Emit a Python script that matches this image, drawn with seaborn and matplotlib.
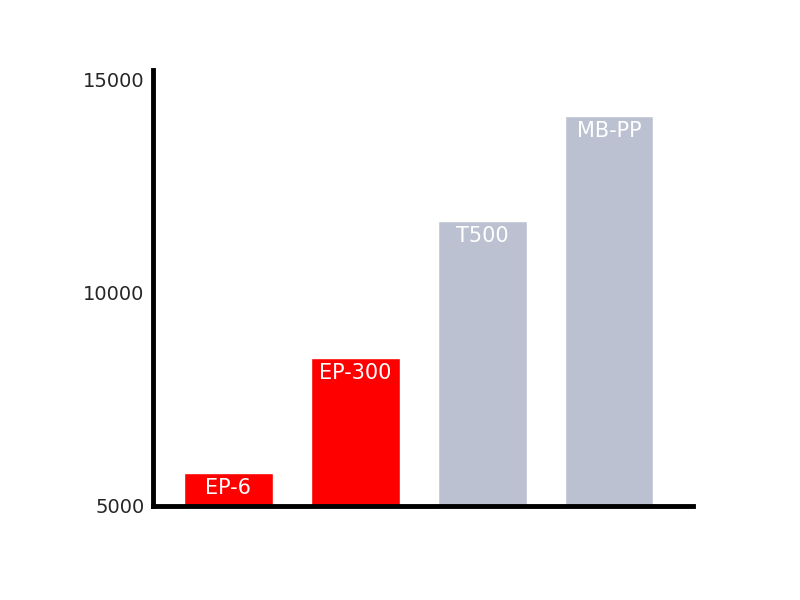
import matplotlib
matplotlib.use("Agg")
import matplotlib.pyplot as plt
import seaborn as sns
import pandas as pd

models = ["EP-6", "EP-300", "T500", "MB-PP"]
values = [5770, 8480, 11700, 14150]
colors = ["#ff0000", "#ff0000", "#bcc1d1", "#bcc1d1"]

sns.set_style("white")
plt.rcParams['font.family'] = ['DejaVu Sans']

df = pd.DataFrame({"model": models, "value": values})
fig = plt.figure(figsize=(8, 6), dpi=100)
ax = fig.add_axes([0.191, 0.157, 0.675, 0.726])
sns.barplot(data=df, x="model", y="value", hue="model", palette=colors,
            width=0.7, legend=False, ax=ax, saturation=1)

ax.set_ylim(5000, 15230)
ax.set_xlim(-0.595, 3.66)
ax.set_yticks([5000, 10000, 15000])
ax.tick_params(axis="y", labelsize=14, length=0, pad=6)
ax.set_xticks([])
ax.set_xlabel("")
ax.set_ylabel("")
for s in ["top", "right"]:
    ax.spines[s].set_visible(False)
for s in ["left", "bottom"]:
    ax.spines[s].set_linewidth(3.5)
    ax.spines[s].set_color("black")

for i, (m, v) in enumerate(zip(models, values)):
    ax.text(i, v - 120, m, ha="center", va="top", color="white", fontsize=15)

fig.savefig("out.png", dpi=100)
